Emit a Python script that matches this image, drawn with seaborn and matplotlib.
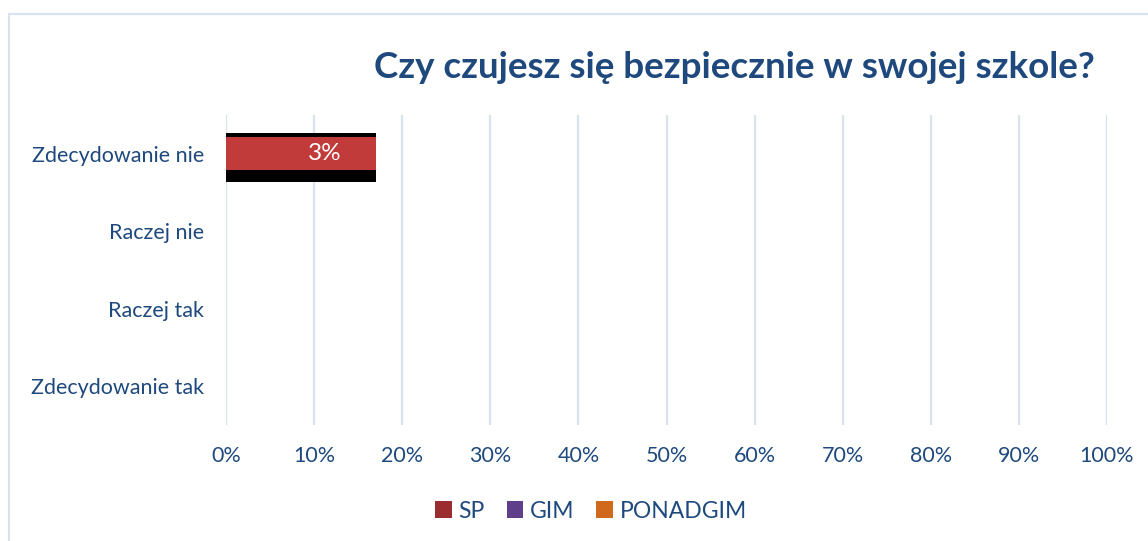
import matplotlib
matplotlib.use("Agg")
import matplotlib.pyplot as plt
import seaborn as sns
import pandas as pd
from matplotlib.patches import Patch, Rectangle

# data
categories = ['Zdecydowanie nie', 'Raczej nie', 'Raczej tak', 'Zdecydowanie tak']
sp_values = [17, 0, 0, 0]          # bar length in % of the axis
sp_labels = ['3%', '', '', '']     # label printed on the bar
shadow_values = [17, 0, 0, 0]      # black band behind the SP bar
series_names = ['SP', 'GIM', 'PONADGIM']
series_colors = ['#9b2d30', '#5f3f8a', '#d0691b']
x_ticks = [0, 10, 20, 30, 40, 50, 60, 70, 80, 90, 100]

df = pd.DataFrame({'Odpowiedz': categories, 'SP': sp_values, 'Shadow': shadow_values})

sns.set_style('white')
plt.rcParams['font.family'] = ['Lato', 'DejaVu Sans']
text_blue = '#1f497d'

fig = plt.figure(figsize=(11.48, 5.41), dpi=100)
ax = fig.add_axes([226 / 1148, 1 - 425 / 541, (1107 - 226) / 1148, 310 / 541])

# black band first (a bit lower), then the red SP bar on top of it
sns.barplot(data=df, x='Shadow', y='Odpowiedz', order=categories, orient='h',
            color='black', saturation=1, width=0.64, linewidth=0, ax=ax, zorder=2)
n_black = len(ax.patches)
for p in ax.patches[:n_black]:
    p.set_y(p.get_y() + 0.05)
sns.barplot(data=df, x='SP', y='Odpowiedz', order=categories, orient='h',
            color='#c23b3b', saturation=1, width=0.42, linewidth=0, ax=ax, zorder=3)

for i, (v, lab) in enumerate(zip(sp_values, sp_labels)):
    if lab:
        ax.text(v * 0.66, i, lab, color='white', fontsize=17.5,
                ha='center', va='center', zorder=4)

ax.set_xlim(0, 100)
ax.set_ylim(3.5, -0.5)
ax.set_xticks(x_ticks)
ax.set_xticklabels([f'{t}%' for t in x_ticks])
ax.xaxis.grid(True, color='#d9e3f0', linewidth=1.6, zorder=0)
ax.set_axisbelow(True)
for s in ax.spines.values():
    s.set_visible(False)
ax.tick_params(axis='x', length=0, pad=15, labelsize=15.5, labelcolor=text_blue)
ax.tick_params(axis='y', length=0, pad=16, labelsize=15.5, labelcolor=text_blue)
ax.set_xlabel('')
ax.set_ylabel('')

fig.text(0.64, 1 - 68 / 541, 'Czy czujesz się bezpiecznie w swojej szkole?',
         ha='center', va='center', fontsize=26.5, fontweight='bold', color=text_blue)

handles = [Patch(facecolor=c, edgecolor='none') for c in series_colors]
leg = fig.legend(handles, series_names, loc='center', bbox_to_anchor=(591 / 1148, 1 - 511 / 541),
                 ncol=3, frameon=False, fontsize=16.5, handlelength=0.72, handleheight=0.72,
                 handletextpad=0.3, columnspacing=0.95)
for t in leg.get_texts():
    t.set_color(text_blue)

# outer chart frame
fig.patches.append(Rectangle((9 / 1148, -0.5), 2, 0.5 + 1 - 14 / 541, transform=fig.transFigure,
                             fill=False, edgecolor='#d6e2f2', linewidth=1.5))

fig.savefig('out.png', dpi=100)
